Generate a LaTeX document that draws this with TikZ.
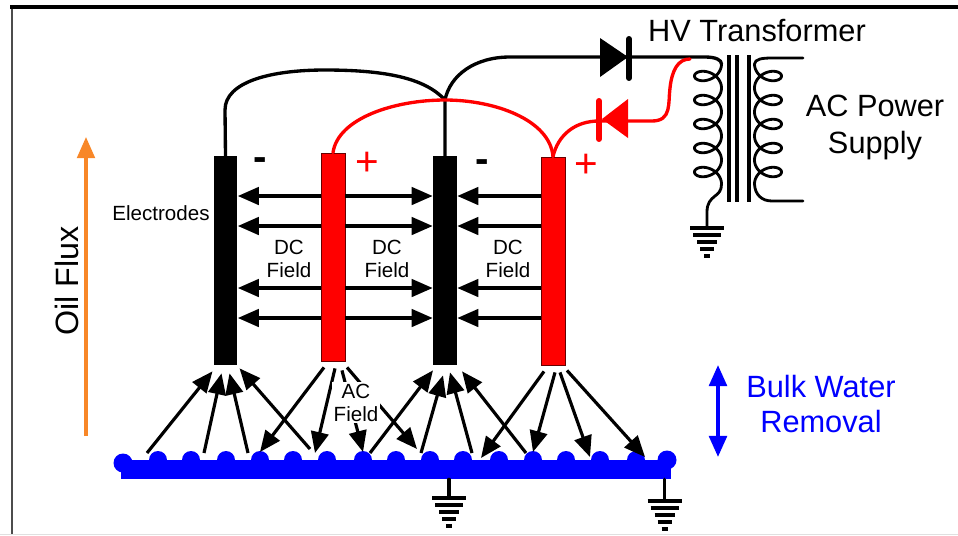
\documentclass[tikz,border=0pt]{standalone}
\usepackage{fontspec}
\setmainfont{Liberation Sans}
\usetikzlibrary{arrows.meta}
\definecolor{oilorange}{RGB}{248,135,40}
\tikzset{
  wire/.style={line width=1.9pt,line cap=round},
  coil/.style={line width=1.6pt,line cap=round},
  field/.style={line width=1.8pt,-{Triangle[length=12pt,width=10pt]}},
  electrode/.style={rectangle,minimum width=0.48cm,inner sep=0pt},
  blackplate/.style={electrode,fill=black},
  redplate/.style={electrode,fill=red,draw=black!60!red,line width=.5pt},
  earth/.pic={
    \draw[line width=1.9pt] (-17,0) -- (17,0);
    \draw[line width=1.9pt] (-14,7) -- (14,7);
    \draw[line width=1.9pt] (-10,14) -- (10,14);
    \draw[line width=1.9pt] (-7,21) -- (7,21);
    \draw[line width=1.9pt] (-3,28) -- (3,28);
  },
  bigtext/.style={font=\fontsize{17.5}{20}\selectfont,inner sep=0pt},
  smalltext/.style={font=\fontsize{11.7}{14}\selectfont,inner sep=0pt},
  signtext/.style={font=\fontsize{23}{25}\selectfont,inner sep=0pt}
}
\begin{document}
\begin{tikzpicture}[x=0.02cm,y=-0.02cm]
\useasboundingbox (0,0) rectangle (958,535);
\draw[black!70,line width=1.2pt] (12,535) -- (12,7);
\draw[line width=2.3pt] (10,7) -- (958,7);
\draw[black!12,line width=.4pt] (0,534) -- (958,534);
\node[blackplate,minimum height=4.18cm] (blackA) at (225.5,260.5) {};
\node[redplate,minimum height=4.16cm] (redA) at (333,257) {};
\node[blackplate,minimum height=4.18cm] (blackB) at (445,260.5) {};
\node[redplate,minimum height=4.16cm] (redB) at (553,261) {};
\node[fill=blue,minimum width=11cm,minimum height=0.38cm,inner sep=0pt] (bar) at (396,469.5) {};
\fill[blue] (123,463) circle (9.5);
\foreach \x in {158,191,226,260,293,327,363,396,430,463,499,533,566,600,636}
  \fill[blue] (\x,460) circle (9);
\fill[blue] (667,460) circle (9.5);
\foreach \y in {196,226,288,318}
{
  \draw[field] (redA.west |- 0,\y) -- (blackA.east |- 0,\y);
  \draw[field] (redA.east |- 0,\y) -- (blackB.west |- 0,\y);
  \draw[field] (redB.west |- 0,\y) -- (blackB.east |- 0,\y);
}
\foreach \ex/\ey/\sx/\sy in {147/453/-13/6,204/453/-4/8,248/453/4/8,310/449/14/3}
  \draw[field] (\ex,\ey) -- ([shift={(\sx,\sy)}]blackA.south);
\foreach \ex/\ey/\sx/\sy in {370/453/-12/5,421/453/-2/10,472/453/5/7,526/453/17/6}
  \draw[field] (\ex,\ey) -- ([shift={(\sx,\sy)}]blackB.south);
\foreach \sx/\sy/\ex/\ey in {-9/6/260/452,2/7/315/453,9/9/363/452,14/6/417/449}
  \draw[field] ([shift={(\sx,\sy)}]redA.south) -- (\ex,\ey);
\foreach \sx/\sy/\ex/\ey in {-9/6/481/458,2/7/533/452,7/7/590/457,14/5/645/457}
  \draw[field] ([shift={(\sx,\sy)}]redB.south) -- (\ex,\ey);
\node[smalltext,fill=white,inner xsep=1pt,inner ysep=1pt,align=center] (acfield) at (356,402.5) {AC\\[-1pt]Field};
\draw[wire] (blackA.north) -- (225,110) .. controls (225,82) and (270,70) .. (325,70) .. controls (385,70) and (425,78) .. (445,100);
\draw[wire] (blackB.north) -- (445,100) .. controls (450,75) and (475,57) .. (510,57) -- (705,57) .. controls (716,57) and (721.5,60) .. (721.5,64);
\draw[wire,red] (redA.north) .. controls (338,118) and (395,100) .. (445,100) .. controls (495,100) and (550,120) .. (redB.north);
\draw[wire,red] (redB.north) .. controls (558,135) and (575,121) .. (599,121) -- (652,121) .. controls (672,121) and (668,103) .. (670,88) .. controls (672,70) and (678,59) .. (690,59);
\fill (600,38) -- (628,57) -- (600,77) -- cycle;
\draw[line width=3.4pt,line cap=round] (629,39) -- (629,78);
\fill[red] (628,99) -- (602,119) -- (628,138) -- cycle;
\draw[red,line width=3.4pt,line cap=round] (599,101) -- (599,139);
\draw[coil] plot[domain=0:31.416,samples=260] ({708+13.5*cos(\x r)},{64+3.82*\x+10*sin(\x r)});
\draw[coil] plot[domain=0:31.416,samples=260] ({768-13.5*cos(\x r)},{64+3.82*\x+10*sin(\x r)});
\draw[coil] (721.5,184) .. controls (722,198) and (707,194) .. (707,212) -- (707,228);
\draw[coil] (754.5,64) .. controls (755,59) and (762,58) .. (772,58) -- (803,58);
\draw[coil] (754.5,184) .. controls (755,195) and (762,201) .. (772,201) -- (803,201);
\foreach \x in {729,737,749}
  \draw[line width=2pt] (\x,55) -- (\x,202);
\path (707,228) pic {earth};
\draw[wire] (bar.south -| 449,0) -- (449,498);
\path (449,498) pic {earth};
\draw[wire] (bar.south -| 664.5,0) -- (664.5,501);
\path (664.5,501) pic {earth};
\draw[oilorange,line width=1.9pt,-{Triangle[length=12pt,width=10pt]}] (86,436) -- (86,137);
\draw[blue,line width=2.2pt,{Triangle[length=12pt,width=10pt]}-{Triangle[length=12pt,width=10pt]}] (718,365) -- (718,457);
\node[bigtext] (hvtitle) at (757,31) {HV Transformer};
\node[bigtext,align=center] (supply) at (875,127.5) {AC Power\\[1pt]Supply};
\node[bigtext,text=blue,align=center] (bulkwater) at (821,404) {Bulk Water\\Removal};
\node[bigtext,rotate=90,scale=1.05] (oilflux) at (67,281) {Oil Flux};
\node[smalltext] (electrodes) at (161,213) {Electrodes};
\node[smalltext,align=center] (dcA) at (289,259) {DC\\[-1pt]Field};
\node[smalltext,align=center] (dcB) at (387,259) {DC\\[-1pt]Field};
\node[smalltext,align=center] (dcC) at (508,259) {DC\\[-1pt]Field};
\node[signtext,font=\fontsize{23}{25}\selectfont\bfseries] (minusA) at (260,164) {-};
\node[signtext,text=red] (plusA) at (367,164) {+};
\node[signtext,font=\fontsize{23}{25}\selectfont\bfseries] (minusB) at (482,166) {-};
\node[signtext,text=red] (plusB) at (586,166) {+};
\end{tikzpicture}
\end{document}
